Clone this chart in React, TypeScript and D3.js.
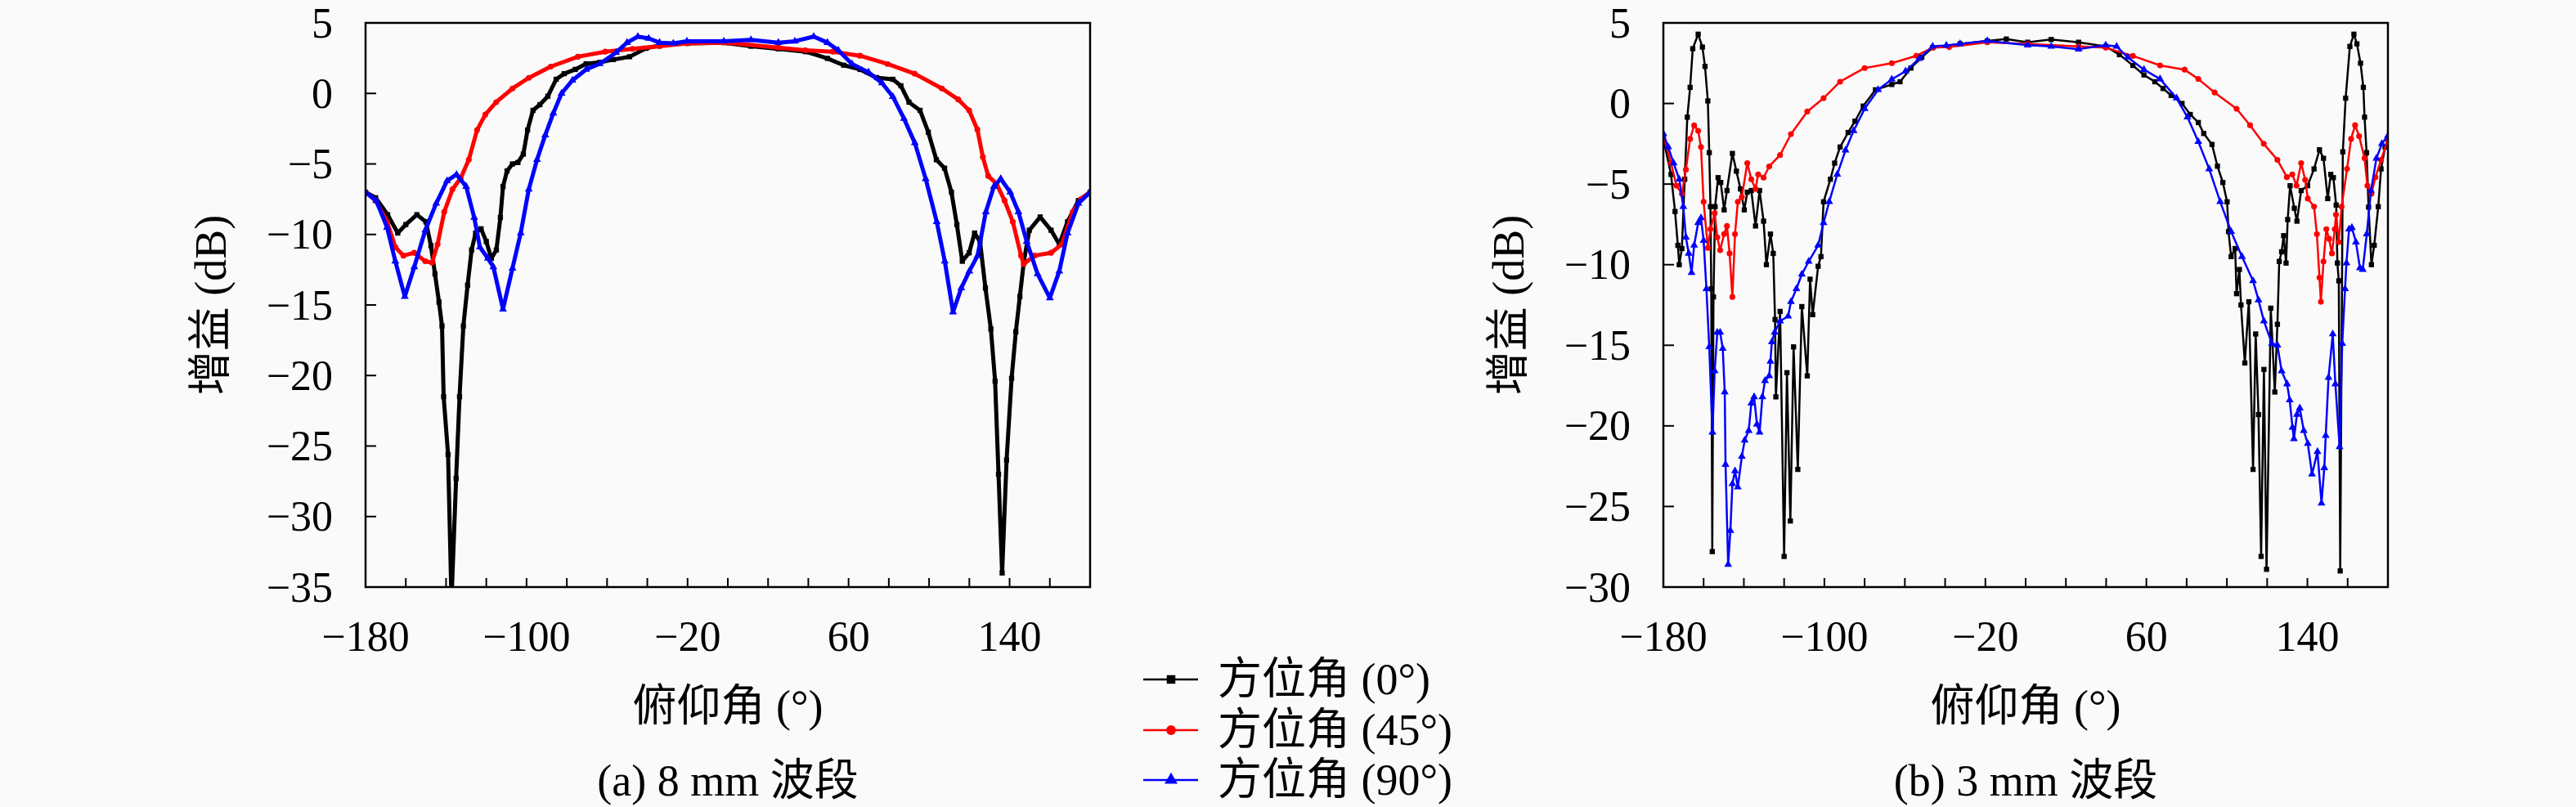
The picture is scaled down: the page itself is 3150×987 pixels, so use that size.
import * as d3 from "d3";

const CANVAS_W = 3150;
const CANVAS_H = 987;
const BG = "#fafafa";

// 8 mm band, [elevation deg, gain dB]
const band8Az0: [number, number][] = [
  [-180, -7.0], [-175, -7.4], [-169, -8.6], [-164, -9.9], [-160, -9.3], [-154.5, -8.6],
  [-150, -9.1], [-147.5, -10.8], [-145.5, -12.8], [-143.5, -14.8], [-142, -16.5], [-141.2, -21.5],
  [-139, -25.6], [-137.3, -36], [-135, -27.3], [-133.3, -21.5], [-131.4, -16.5], [-129.3, -13.6],
  [-127.3, -11.1], [-125.3, -9.9], [-122.6, -9.6], [-120, -10.5], [-117.5, -11.7], [-115, -11.1],
  [-113, -8.8], [-111.7, -6.6], [-109.7, -5.5], [-107, -5.0], [-104.3, -4.9], [-101.6, -4.3],
  [-99.5, -2.6], [-96.8, -1.2], [-93.4, -0.8], [-89.4, -0.2], [-85.3, 1.0], [-81.3, 1.4],
  [-75.8, 1.7], [-70.4, 2.1], [-63.6, 2.2], [-56.9, 2.4], [-48.8, 2.6], [-40.6, 3.2],
  [-33.9, 3.4], [-20, 3.55], [-2, 3.6], [11.5, 3.35], [25, 3.16], [38.6, 2.96], [49.5, 2.48],
  [57.6, 2.0], [65.7, 1.7], [73.9, 1.12], [82, 1.0], [86, 0.54], [90, -0.62], [95.5, -1.2],
  [99.6, -2.75], [103.6, -4.7], [107.7, -5.3], [111.1, -7.0], [113.8, -9.3], [116.5, -11.9],
  [119.9, -11.3], [122.6, -9.9], [125.3, -10.5], [128, -13.8], [130.7, -16.7], [132.8, -20.4],
  [134.5, -27], [136.3, -34], [138.5, -26], [141, -20.2], [143.1, -16.9], [145.1, -14.4],
  [147.1, -11.9], [149.8, -9.7], [155.2, -8.76], [160.6, -9.7], [164.7, -10.7], [168.8, -9.1],
  [174.2, -7.6], [180, -7.0],
];

const band8Az45: [number, number][] = [
  [-180, -7.0], [-175, -7.6], [-169.3, -9.1], [-165.2, -10.9], [-161.2, -11.5], [-155.8, -11.3],
  [-150.3, -11.9], [-147, -12.0], [-144.2, -10.7], [-140.9, -8.4], [-136.8, -6.8], [-132.7, -6.0],
  [-128.7, -4.7], [-124.6, -2.6], [-120.5, -1.5], [-115.1, -0.62], [-107, 0.35], [-98.9, 1.1],
  [-88, 1.9], [-74.5, 2.6], [-60.9, 2.96], [-47.4, 3.16], [-33.9, 3.35], [-20.3, 3.55], [0, 3.6],
  [25.1, 3.25], [38.6, 3.06], [52.2, 2.96], [65.7, 2.67], [79.3, 2.09], [92.8, 1.4], [106.4, 0.35],
  [114.5, -0.43], [119.9, -1.2], [124, -2.56], [126.7, -4.5], [129.4, -5.86], [133.5, -6.4],
  [137.5, -7.6], [141.6, -9.1], [145.7, -11.5], [147, -12.1], [152.4, -11.5], [160.6, -11.3],
  [166, -10.7], [171.4, -8.4], [175.5, -7.5], [180, -7.0],
];

const band8Az90: [number, number][] = [
  [-180, -7.0], [-174.7, -7.6], [-169.3, -9.5], [-165.2, -11.9], [-160.5, -14.4], [-155.8, -12.3],
  [-150.3, -9.7], [-144.9, -7.8], [-139.5, -6.2], [-134.8, -5.75], [-130, -6.6], [-126, -8.8],
  [-123.2, -10.9], [-119.2, -11.7], [-116.5, -12.3], [-111.7, -15.3], [-107, -12.4], [-102.9, -9.9],
  [-98.9, -6.8], [-94.8, -4.7], [-90.7, -2.95], [-86.7, -1.4], [-82.6, 0.0], [-77.2, 0.93],
  [-70.4, 1.7], [-63.6, 2.1], [-55.5, 2.9], [-50.1, 3.6], [-44.7, 4.03], [-39.3, 3.9],
  [-33.9, 3.6], [-27.1, 3.55], [-20.3, 3.7], [-2, 3.7], [11.5, 3.8], [25.1, 3.6], [33.3, 3.7],
  [42.7, 4.03], [49.5, 3.6], [54.9, 3.06], [61.7, 2.09], [69.9, 1.5], [76.6, 0.74], [82, -0.23],
  [87.5, -1.78], [92.9, -3.5], [98.3, -6.05], [103.8, -9.1], [107.8, -11.9], [111.9, -15.5],
  [116, -13.8], [120, -12.6], [124.1, -11.5], [128.2, -8.4], [132.2, -6.6], [135.6, -6.05],
  [140.3, -7.0], [144.4, -8.4], [148.5, -10.5], [153.9, -12.8], [160, -14.5], [164.7, -12.6],
  [168.8, -9.9], [174.2, -7.8], [180, -7.0],
];

// 3 mm band
const band3Az0: [number, number][] = [
  [-180, -2.2], [-176.2, -4.4], [-174.2, -6.7], [-172.8, -8.8], [-172.1, -10.0], [-170.8, -9.0],
  [-169.4, -4.7], [-168.1, -0.85], [-166.7, 1.0], [-165.4, 3.4], [-162.7, 4.3], [-160.6, 3.5],
  [-159.3, 2.3], [-157.9, 0.16], [-157.2, -3.05], [-156.6, -6.4], [-156.2, -11.5], [-155.7, -27.8],
  [-155.1, -12], [-154.3, -6.4], [-152.8, -4.6], [-151.5, -4.9], [-149.8, -6.6], [-148.4, -5.4],
  [-145.7, -3.1], [-143.7, -4.2], [-141.7, -5.3], [-139.8, -6.6], [-138.3, -5.5], [-136.3, -5.4],
  [-134.2, -7.6], [-132.2, -5.4], [-130.2, -7.3], [-128.8, -10.0], [-126.8, -8.1], [-125.4, -9.3],
  [-124.5, -13.4], [-124.1, -18.2], [-122, -12.9], [-120, -28.1], [-118.6, -16.7], [-116.9, -25.9],
  [-115.3, -15.1], [-113.2, -22.7], [-111.2, -12.6], [-108.5, -16.9], [-107.1, -10.9], [-105.8, -13.1],
  [-103.1, -10.1], [-101.7, -9.5], [-100.4, -6.1], [-97, -4.7], [-94.9, -3.7], [-92.2, -2.7],
  [-88.2, -1.8], [-84.8, -1.1], [-80.7, -0.16], [-74.6, 0.85], [-66.5, 1.18], [-62.4, 1.35],
  [-57, 2.2], [-51.6, 2.87], [-46.2, 3.46], [-32.6, 3.7], [-19.1, 3.88], [-9.6, 4.0], [1, 3.8],
  [12.7, 3.97], [26.3, 3.8], [39.8, 3.54], [46.6, 3.03], [53.3, 2.36], [58.8, 1.77], [64.2, 1.35],
  [68.3, 0.93], [72.3, 0.5], [77.7, 0.0], [81.8, -0.68], [85.8, -1.18], [88.5, -1.86], [92.6, -2.54],
  [95.3, -3.89], [98, -4.9], [100.1, -6.1], [100.8, -7.95], [102.1, -9.5], [104.1, -9.0],
  [104.8, -11.8], [106.2, -10.3], [107, -12.5], [108.9, -16.1], [110.9, -12.3], [113, -22.7],
  [114.3, -14.3], [115.7, -19.3], [117, -28.1], [118.4, -16.5], [119.7, -28.9], [121.8, -12.7],
  [123.8, -17.9], [125.1, -13.7], [126, -9.8], [127.2, -9.2], [128.2, -8.2], [129.4, -9.9],
  [130.2, -7.2], [131.4, -5.1], [133.5, -6.5], [134.8, -7.3], [136.9, -5.4], [140.1, -5.1],
  [143.3, -4.06], [146, -2.87], [148, -3.4], [150.1, -5.9], [151.6, -4.4], [152.9, -4.6],
  [154.3, -6.3], [154.9, -9.9], [155.6, -11.0], [156.3, -29.0], [157.6, -3.0], [159, 0.33],
  [161.1, 3.54], [163.1, 4.3], [164.6, 3.7], [166.4, 2.5], [167.8, 1.0], [168.4, -0.85],
  [169.4, -3.05], [170.4, -6.43], [171.8, -10.0], [173.2, -8.8], [175.2, -6.4], [176.6, -4.06],
  [178.6, -2.7], [180, -2.2],
];

const band3Az45: [number, number][] = [
  [-180, -2.0], [-176.2, -3.7], [-173.5, -5.1], [-170.8, -5.6], [-168.8, -4.1], [-166.7, -2.2],
  [-164.7, -1.36], [-162.7, -1.7], [-161.3, -2.7], [-160, -6.1], [-157.9, -8.96], [-156.6, -7.8],
  [-154.5, -6.8], [-153.2, -8.3], [-151.8, -9.1], [-149.8, -8.1], [-148.4, -7.6], [-147.1, -9.3],
  [-145.7, -12.0], [-144.4, -8.1], [-143, -6.1], [-141, -5.8], [-138.3, -3.7], [-136.3, -4.7],
  [-134.2, -5.3], [-132.9, -4.4], [-130.2, -4.6], [-127.4, -3.9], [-122, -3.2], [-116.6, -1.9],
  [-108.5, -0.5], [-100.4, 0.33], [-92.2, 1.35], [-80, 2.2], [-66.5, 2.5], [-54.3, 2.96],
  [-46.2, 3.46], [-38, 3.5], [-19.1, 3.8], [1, 3.7], [26.3, 3.54], [39.8, 3.46], [53.3, 2.95],
  [66.8, 2.36], [79, 2.1], [85.8, 1.52], [93.9, 0.68], [104.8, -0.33], [111.5, -1.35],
  [118.3, -2.5], [125.1, -3.5], [129.8, -4.57], [132.5, -4.4], [134.6, -5.1], [136.9, -3.7],
  [138.9, -4.74], [140.2, -5.9], [143.3, -6.4], [144.7, -8.1], [146, -10.8], [146.7, -12.3],
  [148, -9.8], [149.4, -7.8], [150.8, -8.4], [152.2, -9.3], [153.6, -7.8], [154.2, -6.9],
  [155.6, -8.6], [157, -6.4], [159.7, -4.06], [161.7, -2.2], [163.7, -1.35], [165.7, -2.03],
  [168.4, -3.4], [169.8, -5.1], [171.8, -5.6], [173.8, -4.57], [176.6, -3.5], [180, -2.2],
];

const band3Az90: [number, number][] = [
  [-180, -1.87], [-177.6, -2.7], [-174.9, -3.7], [-172.1, -4.7], [-170.1, -6.4], [-168.8, -8.3],
  [-167.4, -9.3], [-166, -10.5], [-164.7, -8.8], [-162.7, -7.4], [-161.3, -7.1], [-160, -8.5],
  [-158.6, -11.5], [-157.2, -15.1], [-155.6, -20.4], [-154.5, -16.6], [-153.2, -14.2],
  [-151.8, -14.2], [-150.5, -15.2], [-149.5, -17.9], [-149.1, -22.4], [-147.8, -28.6],
  [-146.7, -26.5], [-145.7, -23.6], [-144.4, -22.8], [-143, -23.8], [-141, -21.9], [-139.6, -20.9],
  [-137.6, -20.3], [-136.3, -18.6], [-134.9, -18.2], [-133.5, -19.9], [-132.2, -20.4],
  [-130.8, -18.2], [-129.5, -17.2], [-127.4, -16.9], [-126.8, -16.0], [-126.1, -14.8],
  [-124.7, -14.2], [-122, -13.5], [-118, -13.2], [-116.6, -12.3], [-113.9, -11.5], [-111.2, -10.6],
  [-107.8, -9.8], [-103.1, -8.8], [-100.4, -7.4], [-97.6, -6.1], [-93.6, -4.4], [-89.5, -2.9],
  [-85.5, -1.7], [-80, -0.33], [-73.3, 0.85], [-66.5, 1.5], [-59.7, 2.0], [-52.9, 2.78],
  [-46.2, 3.54], [-39.4, 3.6], [-32.6, 3.7], [-19.1, 3.88], [1, 3.62], [12.7, 3.54], [26.3, 3.37],
  [39.8, 3.62], [45.2, 3.54], [50.7, 2.87], [58.8, 2.1], [66.8, 1.52], [75, 0.33], [80.4, -0.85],
  [85.8, -2.37], [91.2, -4.06], [96.7, -6.1], [102.1, -7.95], [107.5, -9.5], [113, -11.0],
  [115.7, -12.2], [118.4, -13.5], [122.4, -14.9], [125.1, -15.0], [127.2, -16.6], [129.9, -17.4],
  [131.2, -18.4], [132.6, -20.1], [133.3, -20.8], [134.8, -19.3], [136.2, -18.9], [138.2, -20.3],
  [140.2, -21.1], [142.3, -23.0], [145, -21.6], [147, -24.8], [148.4, -22.6], [149.1, -20.6],
  [150.5, -17.0], [152.6, -14.3], [153.9, -17.4], [156, -21.3], [157.3, -14.9], [158.7, -11.5],
  [159.4, -9.9], [160.7, -7.8], [162.1, -7.7], [164.1, -8.6], [166.1, -10.2], [167.5, -10.3],
  [169.5, -8.1], [171.6, -5.4], [174.3, -3.4], [177, -2.5], [180, -2.0],
];

const xTickValues = d3.range(-180, 181, 20);
const xTickLabels = [-180, -100, -20, 60, 140];
const yTicks8 = [5, 0, -5, -10, -15, -20, -25, -30, -35];
const yTicks3 = [5, 0, -5, -10, -15, -20, -25, -30];

const seriesNames = ["方位角 (0°)", "方位角 (45°)", "方位角 (90°)"];
const seriesColors = ["#000000", "#ff0000", "#0000ff"];
const seriesSymbols = [d3.symbolSquare, d3.symbolCircle, d3.symbolTriangle];

const LATIN = "'Liberation Serif', 'DejaVu Serif', serif";
const CJK = "'Liberation Serif', 'Noto Sans CJK SC', serif";

const PLOT_W = 886;
const PLOT_TOP = 28;
const PLOT_BOTTOM = 718;

type Props = {
  id: string;
  left: number;
  data: [number, number][][];
  yMin: number;
  yTicks: number[];
  caption: string;
  lineWidth: number;
  markerArea: number;
};

const Panel = ({ id, left, data, yMin, yTicks, caption, lineWidth, markerArea }: Props) => {
  const x = d3.scaleLinear().domain([-180, 180]).range([left, left + PLOT_W]);
  const y = d3.scaleLinear().domain([yMin, 5]).range([PLOT_BOTTOM, PLOT_TOP]);
  const line = d3
    .line<[number, number]>()
    .x((d) => x(d[0]))
    .y((d) => y(d[1]));
  const fmt = d3.format("d");
  const cx = left + PLOT_W / 2;

  return (
    <g>
      <defs>
        <clipPath id={id}>
          <rect x={left} y={PLOT_TOP} width={PLOT_W} height={PLOT_BOTTOM - PLOT_TOP} />
        </clipPath>
      </defs>
      <g clipPath={`url(#${id})`}>
        {data.map((s, i) => (
          <g key={i}>
            <path
              d={line(s) as string}
              fill="none"
              stroke={seriesColors[i]}
              strokeWidth={lineWidth}
              strokeLinejoin="round"
            />
            {s.map((d, j) => (
              <path
                key={j}
                transform={`translate(${x(d[0])},${y(d[1])})`}
                d={d3.symbol(seriesSymbols[i], markerArea)() as string}
                fill={seriesColors[i]}
              />
            ))}
          </g>
        ))}
      </g>
      {/* ticks */}
      {xTickValues.map((t) => (
        <line key={t} x1={x(t)} x2={x(t)} y1={PLOT_BOTTOM} y2={PLOT_BOTTOM - 11} stroke="#000" strokeWidth={2} />
      ))}
      {yTicks.map((t) => (
        <line key={t} x1={left} x2={left + 13} y1={y(t)} y2={y(t)} stroke="#000" strokeWidth={2} />
      ))}
      <rect
        x={left}
        y={PLOT_TOP}
        width={PLOT_W}
        height={PLOT_BOTTOM - PLOT_TOP}
        fill="none"
        stroke="#000"
        strokeWidth={2.5}
      />
      {xTickLabels.map((t) => (
        <text key={t} x={x(t)} y={796} textAnchor="middle" fontFamily={LATIN} fontSize={52}>
          {fmt(t)}
        </text>
      ))}
      {yTicks.map((t) => (
        <text
          key={t}
          x={left - 40}
          y={y(t)}
          textAnchor="end"
          dominantBaseline="central"
          fontFamily={LATIN}
          fontSize={52}
        >
          {fmt(t)}
        </text>
      ))}
      <text x={cx} y={882} textAnchor="middle" fontFamily={CJK} fontSize={54}>
        俯仰角 (°)
      </text>
      <text
        transform={`translate(${left - 189},${(PLOT_TOP + PLOT_BOTTOM) / 2}) rotate(-90)`}
        textAnchor="middle"
        dominantBaseline="central"
        fontFamily={CJK}
        fontSize={54}
      >
        增益 (dB)
      </text>
      <text x={cx} y={973} textAnchor="middle" fontFamily={CJK} fontSize={54}>
        {caption}
      </text>
    </g>
  );
};

const Legend = () => {
  const rows = [831, 893, 954];
  return (
    <g>
      {seriesNames.map((name, i) => (
        <g key={name}>
          <line x1={1398} x2={1465} y1={rows[i]} y2={rows[i]} stroke={seriesColors[i]} strokeWidth={2.5} />
          <path
            transform={`translate(1432,${rows[i]})`}
            d={d3.symbol(seriesSymbols[i], 110)() as string}
            fill={seriesColors[i]}
          />
          <text x={1489} y={rows[i]} dominantBaseline="central" fontFamily={CJK} fontSize={54}>
            {name}
          </text>
        </g>
      ))}
    </g>
  );
};

const App = () => {
  return (
    <svg
      width={CANVAS_W}
      height={CANVAS_H}
      style={{ position: "absolute", left: 0, top: 0 }}
    >
      <rect width={CANVAS_W} height={CANVAS_H} fill={BG} />
      <Panel
        id="clip8"
        left={447}
        data={[band8Az0, band8Az45, band8Az90]}
        yMin={-35}
        yTicks={yTicks8}
        caption="(a) 8 mm 波段"
        lineWidth={5}
        markerArea={40}
      />
      <Panel
        id="clip3"
        left={2034}
        data={[band3Az0, band3Az45, band3Az90]}
        yMin={-30}
        yTicks={yTicks3}
        caption="(b) 3 mm 波段"
        lineWidth={2.5}
        markerArea={40}
      />
      <Legend />
    </svg>
  );
};

export default App;
